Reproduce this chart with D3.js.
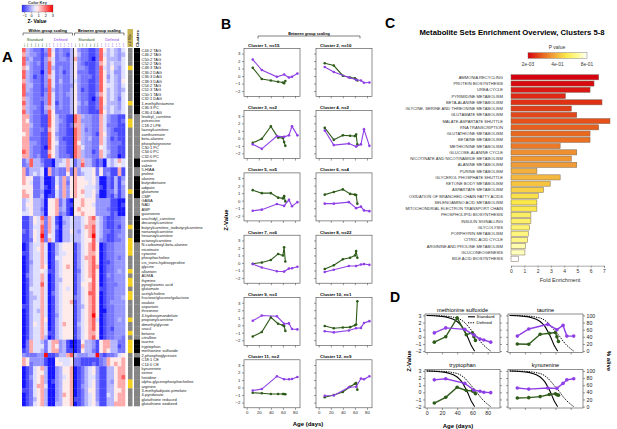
<!DOCTYPE html>
<html><head><meta charset="utf-8">
<script src="https://cdn.jsdelivr.net/npm/d3@7"></script>
<style>body{margin:0;background:#fff}svg{display:block;font-family:"Liberation Sans",Arial,sans-serif}</style>
</head><body><svg id="c" width="617" height="429"></svg>
<script>
// ================= DATA =================
// Panel A
const metabolites = ["C44:2 TAG","C46:2 TAG","C50:2 TAG","C52:2 TAG","C48:3 TAG","C36:2 DAG","C36:3 DAG","C38:3 DAG","C54:2 TAG","C52:3 TAG","C50:1 TAG","C32:1 DAG","1-methylhistamine","C36:3 PC","C36:4 DAG",
"linoleyl_carnitine","putrescine","C18:2 LPE","lauroylcarnitine","xanthurenate","beta-alanine","phosphotyrosine","C30:1 PC","C34:0 PC","C32:0 PC",
"carnitine","valine","5-HIAA","proline",
"alanine","butyrobetaine","adipate","glutamine","CMP",
"GABA","NAD","AMP","guanosine",
"arachidyl_carnitine","decanoylcarnitine","butyrylcarnitine_isobutyrylcarnitine","nonanoylcarnitine","hexanoylcarnitine","octanoylcarnitine",
"N-carbamoyl-beta-alanine","nicotinate","cytosine","phosphocholine","cis_trans-hydroxyproline","glycine","allantoin","ADMA","thymine","pyroglutamic acid","glutamate","acetylcholine","fructose/glucose/galactose","oxalate","aspartate","threonine","4-hydroxymandelate","propionylcarnitine","dimethylglycine","uracil","betaine","citrulline",
"taurine","tryptophan","methionine sulfoxide","2-phosphoglycerate","C18:1 CE","C14:0 CE",
"kynurenine","serine","histidine","alpha-glycerophosphocholine","arginine","3-methyladipate-pimelate","4-pyridoxate","glutathione reduced","glutathione oxidized"];
const clusterSizes = [15,10,2,2,5,4,6,22,3,1,2,9];
const sigRows = [4,12,16,17,32,40,43,44,45,46,50,52,53,55,56,61,64,66,67,68,75,76];
const keyTicks = [-1,0,1,2,3];
// heat codes: 0..9 -> z (see zCode); groups: within Std | within Def | between Std | between Def
const zCode = [-1.5,-1.0,-0.6,-0.3,0,0.4,0.9,1.5,2.2,3.0];
const heatRows = [
"8432213 8523224 6322112 8645435","7433212 8623214 6422112 8545434","8342213 7523324 7322102 8644435","8432313 8522224 6321112 7645445","7532213 8423224 6332112 8546435",
"8432203 8523124 6222112 8645335","8431213 7523224 6322212 8635435","7432213 8524224 5322112 8645436","8442213 8523223 6322112 8655435","8432212 8423224 6312112 8645434",
"8332213 8523234 6322113 7645435","7432223 8523224 6322102 8645425","8432213 8513224 6423112 8644435","7433214 7523224 6322112 8545435","8432213 8622224 6322111 8645445",
"7732211 8642211 8743322 7532211","7632211 8643211 8733322 7532212","7742211 8642212 7743322 7522211","7732221 7642211 8742322 7532111","6732211 8632211 8743321 7632211",
"7722211 8642111 8743422 7531211","7733211 8652211 8643322 7532221","7732210 8642211 8753322 6532211","8732211 7642211 8743312 7542211","7732311 8642221 8743322 7532201",
"2484421 1044575 2474421 2054575","2384431 1045575 2484421 2054565",
"7244450 7232272 7355562 6221171","7245450 7232262 7345562 6231171",
"7662240 0153736 7665564 0021413","7652240 0153726 7666564 0021414","6662241 0163736 7665554 1021413","7662230 0153736 7675564 0022413","7762240 1153736 7665563 0021313",
"4564430 6672410 6676663 3331100","4664430 6672411 6676653 3331101","4564420 6673410 6766663 3321100","5564430 6672310 6676663 3331200",
"1136582 7510445 4456785 4211223","1136572 7510345 4456775 4211223","1135582 7520445 4457785 4211213","2136582 7510446 4356785 4221223","1136592 6510445 4456795 4211233","1126582 7510445 4456685 3211223",
"0145575 0145666 1356786 0122333","0145675 0145666 1356786 0122333","1145575 0145566 1356776 0122333","0145575 0155666 1357786 0122323","0135575 0145666 1356786 0112333",
"0145576 0145676 1356787 0122333","0145565 1145666 1256786 0122343","0245575 0145666 1356786 0132333","0145575 0144666 1356686 0122333","0145585 0145666 1366786 0122233",
"0155575 0145656 1356786 1122333","0145575 0245666 1356886 0122333","0144575 0145666 2356786 0122334","0145575 0145667 1356786 0123333","1145575 0145666 1346786 0122333",
"0145475 0145666 1356786 0022333","0145575 0135666 1356796 0122333","0145576 0145666 1356785 0122343","0146575 0145766 1456786 0122333","0145575 0145666 1356786 0121333",
"0145575 1145666 1356776 0122333","0145574 0145666 1356786 0122332",
"0275542 5773410 0164431 6774422","0275552 5763410 0174431 6774412","1275542 5773411 0164421 6764422",
"3222339 1124478 4333449 2122356",
"7633331 0065556 2211111 2376667","7623331 0066556 2211121 2376767",
"0125674 0034667 0124563 1144677","0125664 0034667 0124563 1144677","0135674 0034567 0124553 1144678","0125674 0134667 0124563 1143677","0125775 0034667 0134563 1144677",
"1125674 0034667 0124663 1144667","0125674 0034767 0124563 1154677","0124674 0034667 1124563 1144677","0125674 0044667 0124564 1144777"];

// Panel B
const ageStd = [10,25,40,52,60,62,64];
const ageDef = [10,25,50,62,70,75,84];
const clusterStd = [
 [1.1,-0.4,-0.6,-0.75,-0.85,-0.95,-0.65],
 [1.7,1.4,0.05,-0.2,-0.3,-0.45,-0.6],
 [-0.6,-0.05,1.6,0.1,0.05,-0.5,-1.0],
 [1.4,-0.2,0.4,0.35,0.3,0.5,-0.8],
 [1.4,1.0,1.0,0.4,0.3,0.6,-0.1],
 [0.8,1.15,1.5,0.9,0.8,0.75,-0.4],
 [-0.1,0.05,0.4,1.2,1.0,2.1,0.2],
 [-0.8,-0.3,0.5,0.7,1.0,1.6,0.7],
 [-1.5,-0.9,1.05,0.2,0.0,-0.1,-0.75],
 [-0.1,-0.4,-0.3,-0.25,0.0,0.1,3.2],
 [-0.7,-0.75,-0.85,-0.85,-0.85,-0.85,-0.9],
 [-1.3,-1.0,-0.6,0.1,0.5,0.6,-0.3]];
const clusterDef = [
 [2.2,0.8,-0.1,0.2,-0.2,-0.1,0.35],
 [1.2,0.55,-0.2,-0.5,-0.6,-0.9,-0.85],
 [-0.8,-1.4,0.3,0.2,0.4,1.6,0.4],
 [1.05,-0.9,-0.7,-1.1,-0.8,1.2,-1.0],
 [-1.35,-1.2,-0.45,-0.7,0.1,-0.75,-0.2],
 [-0.4,-0.4,-0.2,-1.0,-0.8,-1.3,-1.4],
 [-0.15,-0.6,-1.1,-1.15,-0.75,-0.7,-0.5],
 [-1.2,-0.9,-0.4,-0.4,-0.2,-0.15,-0.25],
 [0.6,1.3,1.2,0.2,0.25,-0.5,-0.55],
 [-0.8,-0.95,-0.7,-0.4,-0.35,0.3,0.55],
 [-0.4,-0.2,1.5,1.1,1.1,1.15,1.4],
 [-1.1,-1.05,0.05,0.1,1.2,1.1,1.5]];
const ageTicks = [0,20,40,60,80];
const zTicks = [-2,-1,0,1,2,3];

// Panel C
const pathways = ["AMMONIA RECYCLING","PROTEIN BIOSYNTHESIS","UREA CYCLE","PYRIMIDINE METABOLISM","BETA-ALANINE METABOLISM","GLYCINE, SERINE AND THREONINE METABOLISM","GLUTAMATE METABOLISM","MALATE-ASPARTATE SHUTTLE","RNA TRANSCRIPTION","GLUTATHIONE METABOLISM","BETAINE METABOLISM","METHIONINE METABOLISM","GLUCOSE-ALANINE CYCLE","NICOTINATE AND NICOTINAMIDE METABOLISM","ALANINE METABOLISM","PURINE METABOLISM","GLYCEROL PHOSPHATE SHUTTLE","KETONE BODY METABOLISM","ASPARTATE METABOLISM","OXIDATION OF BRANCHED CHAIN FATTY ACIDS","SELENOAMINO ACID METABOLISM","MITOCHONDRIAL ELECTRON TRANSPORT CHAIN","PHOSPHOLIPID BIOSYNTHESIS","INSULIN SIGNALLING","GLYCOLYSIS","PORPHYRIN METABOLISM","CITRIC ACID CYCLE","ARGININE AND PROLINE METABOLISM","GLUCONEOGENESIS","BILE ACID BIOSYNTHESIS"];
const foldEnrichment = [6.6,6.25,5.95,4.1,6.85,4.55,4.95,7.45,6.6,5.95,5.95,3.7,4.95,4.55,4.95,1.95,3.7,2.95,2.45,2.05,1.95,1.95,1.5,1.5,1.4,1.3,1.25,1.1,1.05,0.55];
const pValues = [0.004,0.02,0.05,0.08,0.1,0.12,0.14,0.16,0.19,0.21,0.23,0.25,0.3,0.32,0.33,0.38,0.4,0.43,0.46,0.5,0.52,0.53,0.57,0.58,0.6,0.62,0.64,0.7,0.72,0.8];
const pLegendTicks = [0.002,0.4,0.8];
const pLegendLabels = ["2e-03","4e-01","8e-01"];
const foldTicks = [0,1,2,3,4,5,6,7];

// Panel D
const dNames = ["methionine sulfoxide","taurine","tryptophan","kynurenine"];
const dStd = [
 [-0.75,0.0,2.65,0.3,0.55,0.0,-0.5],
 [-1.0,-1.05,0.35,0.5,0.6,0.0,-0.65],
 [-1.5,-0.7,0.7,0.25,0.2,0.1,-0.2],
 [-0.8,-0.75,-0.6,-0.3,-0.2,-0.35,-0.4]];
const dDef = [
 [0.55,1.25,1.05,0.25,-0.3,-0.45,-0.75],
 [0.1,1.1,1.75,1.0,1.6,0.1,0.1],
 [1.75,1.9,1.25,0.3,0.15,0.0,-0.05],
 [0.6,0.45,0.6,0.55,1.25,1.75,1.9]];
const survStdAge = [0,10,20,25,30,35,40,43,46,48,50,52,54,56,58,60,62,63];
const survStdPct = [100,99,97,96,93,89,83,77,70,63,55,47,38,28,18,10,3,0];
const survDefAge = [0,20,30,40,45,50,55,60,63,66,70,74,78,82,84];
const survDefPct = [100,99,97,93,88,80,68,55,48,40,28,18,10,3,0];
const pctTicks = [0,20,40,60,80,100];

// ================= DRAW =================
const svg = d3.select("#c");
const GREEN = "#2e5b19", PURPLE = "#8f3fe6";
const fmt = d3.format("~g");
const defs = svg.append("defs");
function txt(x,y,s,size,opts={}){
  const t = svg.append("text").attr("x",x).attr("y",y).attr("font-size",size).text(s);
  if(opts.anchor) t.attr("text-anchor",opts.anchor);
  if(opts.bold) t.attr("font-weight","bold");
  if(opts.fill) t.attr("fill",opts.fill);
  if(opts.rot!==undefined) t.attr("transform",`rotate(${opts.rot},${x},${y})`);
  if(opts.mid) t.attr("dominant-baseline","central");
  return t;
}

// ---------- Panel A ----------
txt(2,62,"A",15,{bold:true});
const heatColor = d3.scaleLinear().domain([-1.7,0.7,3.1]).range(["#0000ff","#ffffff","#ff0000"]).clamp(true);
const keyX = d3.scaleLinear().domain([-1.3,3.1]).range([22,53]);
const kg = defs.append("linearGradient").attr("id","keyG");
d3.range(0,1.0001,0.1).forEach(t=>kg.append("stop").attr("offset",t).attr("stop-color",heatColor(keyX.invert(22+31*t))));
svg.append("rect").attr("x",22).attr("y",5).attr("width",31).attr("height",7).attr("fill","url(#keyG)").attr("stroke","#555").attr("stroke-width",0.3);
const kAx = svg.append("g").attr("transform","translate(0,12)").call(d3.axisBottom(keyX).tickValues(keyTicks).tickFormat(fmt).tickSize(1.5).tickPadding(0.8));
kAx.select(".domain").remove(); kAx.selectAll("text").attr("font-size",3.8); kAx.selectAll("line").attr("stroke-width",0.3);
txt(37.5,3.6,"Color Key",4,{anchor:"middle",bold:true,fill:"#333"});
txt(37,23,"Z- Value",5,{anchor:"middle",bold:true});

const heatVals = heatRows.map(r=>r.replace(/ /g,"").split("").map(c=>zCode[+c]));
const nCol = 28;
const hx = d3.scaleBand().domain(d3.range(nCol)).range([22,125]);
const hy = d3.scaleBand().domain(d3.range(metabolites.length)).range([48,406]);
const cells = [];
heatVals.forEach((row,i)=>row.forEach((v,j)=>cells.push({i,j,v})));
svg.append("g").selectAll("rect").data(cells).join("rect")
  .attr("x",d=>hx(d.j)).attr("y",d=>hy(d.i)).attr("width",hx.bandwidth()+0.3).attr("height",hy.bandwidth()+0.3)
  .attr("fill",d=>heatColor(d.v));
svg.append("line").attr("x1",hx(14)).attr("x2",hx(14)).attr("y1",48).attr("y2",406).attr("stroke","#000").attr("stroke-width",0.8);

// headers
function bracket(x1,x2,y,label,size){
  svg.append("path").attr("d",`M${x1},${y+2.5}V${y}H${x2}V${y+2.5}`).attr("fill","none").attr("stroke","#000").attr("stroke-width",0.5);
  txt((x1+x2)/2,y-1.5,label,size,{anchor:"middle",bold:true});
}
bracket(hx(0)+1,hx(13)+hx.bandwidth()-1,33,"Within group scaling",3.9);
bracket(hx(14)+1,hx(27)+hx.bandwidth()-1,33,"Between group scaling",3.9);
[[0,"Standard",GREEN],[7,"Defined",PURPLE],[14,"Standard",GREEN],[21,"Defined",PURPLE]].forEach(([c,l,col])=>{
  txt((hx(c)+hx(c+6)+hx.bandwidth())/2,41,l,4,{anchor:"middle",fill:col});
});
d3.range(nCol).forEach(j=>{
  const g = Math.floor(j/7), isStd = g%2===0;
  const age = isStd ? ageStd[j%7] : ageDef[j%7];
  txt(hx(j)+hx.bandwidth()/2+0.8,47.3,(isStd?"S":"D")+age,2.4,{rot:-90,fill:isStd?GREEN:PURPLE});
});
// annotation columns
svg.append("rect").attr("x",127.5).attr("y",29).attr("width",5.5).attr("height",18).attr("fill","#c9b458");
txt(131.3,46,"≥ 2 SDs",3.4,{rot:-90,fill:"#222"});
txt(139.2,47,"Clusters",4.2,{rot:-90,bold:true});
const rowCluster = [];
clusterSizes.forEach((n,k)=>{for(let q=0;q<n;q++) rowCluster.push(k);});
svg.append("g").selectAll("rect").data(metabolites).join("rect")
  .attr("x",128).attr("y",(d,i)=>hy(i)).attr("width",4.5).attr("height",hy.bandwidth()+0.3)
  .attr("fill",(d,i)=>sigRows.includes(i)?"#f2cf1d":"#858585");
svg.append("g").selectAll("rect").data(metabolites).join("rect")
  .attr("x",134).attr("y",(d,i)=>hy(i)).attr("width",6).attr("height",hy.bandwidth()+0.3)
  .attr("fill",(d,i)=>rowCluster[i]%2===0?"#000":"#858585");
svg.append("g").selectAll("text").data(metabolites).join("text")
  .attr("x",141.5).attr("y",(d,i)=>hy(i)+hy.bandwidth()/2).attr("dominant-baseline","central")
  .attr("font-size",4.0).attr("fill","#222").text(d=>d);

// ---------- Panel B ----------
txt(221,29,"B",14,{bold:true});
bracket(258,360,36,"Between group scaling",3.8);
const bX0 = [244,316], bW = 56, bH = 48, bTop0 = 48.3, bStep = 62.3;
clusterSizes.forEach((n,k)=>{
  const col = k%2, row = Math.floor(k/2);
  const x0 = bX0[col], y0 = bTop0 + row*bStep;
  const x = d3.scaleLinear().domain([-4.5,88.3]).range([x0,x0+bW]);
  const y = d3.scaleLinear().domain([-2.7,3.7]).range([y0+bH,y0]);
  const g = svg.append("g");
  const ax = g.append("g").attr("transform",`translate(0,${y0+bH})`).call(d3.axisBottom(x).tickValues(ageTicks).tickFormat(fmt).tickSize(2).tickPadding(1.2));
  ax.select(".domain").remove(); ax.selectAll("line").attr("stroke","#333").attr("stroke-width",0.5);
  ax.selectAll("text").attr("font-size",4.3).attr("fill","#222");
  if(row<5) ax.selectAll("text").remove();
  const ay = g.append("g").attr("transform",`translate(${x0},0)`).call(d3.axisLeft(y).tickValues(zTicks).tickFormat(fmt).tickSize(2).tickPadding(1.5));
  ay.select(".domain").remove(); ay.selectAll("line").attr("stroke","#333").attr("stroke-width",0.5);
  ay.selectAll("text").attr("font-size",4.3).attr("fill","#222");
  if(col===1) ay.selectAll("text").remove();
  g.append("rect").attr("x",x0).attr("y",y0).attr("width",bW).attr("height",bH).attr("fill","none").attr("stroke","#444").attr("stroke-width",0.6);
  txt(x0+4,y0-1.6,`Cluster ${k+1}, n=${n}`,4.4,{bold:true});
  [[ageStd,clusterStd[k],GREEN],[ageDef,clusterDef[k],PURPLE]].forEach(([ages,vals,c])=>{
    const pts = ages.map((a,i)=>[x(a),y(vals[i])]);
    g.append("path").attr("d",d3.line()(pts)).attr("fill","none").attr("stroke",c).attr("stroke-width",1.1);
    g.selectAll(null).data(pts).join("circle").attr("cx",d=>d[0]).attr("cy",d=>d[1]).attr("r",1.3).attr("fill",c);
  });
});
txt(228,220,"Z-Value",6,{anchor:"middle",bold:true,rot:-90});
txt(308,426,"Age (days)",6,{anchor:"middle",bold:true});

// ---------- Panel C ----------
txt(385,28,"C",14,{bold:true});
txt(512,35,"Metabolite Sets Enrichment Overview, Clusters 5-8",7.7,{anchor:"middle",bold:true});
const pColor = d3.scaleLinear().domain([0.002,0.2,0.36,0.52,0.68,0.8]).range(["#d7000f","#e8641e","#f2a83a","#fbe84a","#fffc9a","#ffffff"]).clamp(true);
const pLegX = d3.scaleLinear().domain([0.002,0.8]).range([528,587]);
const pg = defs.append("linearGradient").attr("id","pG");
d3.range(0,1.0001,0.05).forEach(t=>pg.append("stop").attr("offset",t).attr("stop-color",pColor(pLegX.invert(528+59*t))));
txt(557,48.5,"P value",5,{anchor:"middle",fill:"#333"});
svg.append("rect").attr("x",528).attr("y",52.7).attr("width",59).attr("height",5.6).attr("fill","url(#pG)").attr("stroke","#666").attr("stroke-width",0.4);
pLegendTicks.forEach((p,i)=>txt(pLegX(p),65.5,pLegendLabels[i],4.8,{anchor:"middle",fill:"#333"}));
const cx = d3.scaleLinear().domain([0,7]).range([511,604]);
const cy = d3.scaleBand().domain(pathways).range([74.17,261.83]).paddingInner(0.18).paddingOuter(0.09);
svg.append("g").selectAll("rect").data(pathways).join("rect")
  .attr("x",cx(0)).attr("y",d=>cy(d)).attr("height",cy.bandwidth())
  .attr("width",(d,i)=>cx(foldEnrichment[i])-cx(0))
  .attr("fill",(d,i)=>pColor(pValues[i])).attr("stroke","#7a6a5a").attr("stroke-width",0.5);
svg.append("g").selectAll("text").data(pathways).join("text")
  .attr("x",503).attr("y",d=>cy(d)+cy.bandwidth()/2).attr("dominant-baseline","central")
  .attr("text-anchor","end").attr("font-size",4.1).attr("fill","#333").text(d=>d);
const cax = svg.append("g").attr("transform","translate(0,265.7)").call(d3.axisBottom(cx).tickValues(foldTicks).tickFormat(fmt).tickSize(2).tickPadding(1.5));
cax.select(".domain").attr("stroke","#555").attr("stroke-width",0.5);
cax.selectAll("line").attr("stroke","#555").attr("stroke-width",0.5);
cax.selectAll("text").attr("font-size",5).attr("fill","#333");
txt(560,282,"Fold Enrichment",5.6,{anchor:"middle",fill:"#333"});

// ---------- Panel D ----------
txt(390,302,"D",14,{bold:true});
const dBoxes = [[425,314],[508,314],[425,369.5],[508,369.5]];
const dW = 75, dH = 38.5;
dNames.forEach((name,k)=>{
  const [x0,y0] = dBoxes[k];
  const x = d3.scaleLinear().domain([-2.2,96.2]).range([x0,x0+dW]);
  const y = d3.scaleLinear().domain([-2.2,3.2]).range([y0+dH,y0]);
  const yp = d3.scaleLinear().domain([0,100]).range([y(-2),y(3)]);
  const g = svg.append("g");
  const ax = g.append("g").attr("transform",`translate(0,${y0+dH})`).call(d3.axisBottom(x).tickValues(ageTicks).tickFormat(fmt).tickSize(2).tickPadding(1.5));
  ax.select(".domain").remove(); ax.selectAll("line").attr("stroke","#333").attr("stroke-width",0.5);
  ax.selectAll("text").attr("font-size",5.2).attr("fill","#222");
  if(k!==2) ax.selectAll("text").remove();
  const ay = g.append("g").attr("transform",`translate(${x0},0)`).call(d3.axisLeft(y).tickValues(zTicks).tickFormat(fmt).tickSize(2).tickPadding(1.5));
  ay.select(".domain").remove(); ay.selectAll("line").attr("stroke","#333").attr("stroke-width",0.5);
  ay.selectAll("text").attr("font-size",5.2).attr("fill","#222");
  if(k%2===1) ay.selectAll("text").remove();
  const ar = g.append("g").attr("transform",`translate(${x0+dW},0)`).call(d3.axisRight(yp).tickValues(pctTicks).tickFormat(fmt).tickSize(2).tickPadding(1.5));
  ar.select(".domain").remove(); ar.selectAll("line").attr("stroke","#333").attr("stroke-width",0.5);
  ar.selectAll("text").attr("font-size",5.2).attr("fill","#222");
  if(k%2===0) ar.selectAll("text").remove();
  g.append("rect").attr("x",x0).attr("y",y0).attr("width",dW).attr("height",dH).attr("fill","none").attr("stroke","#444").attr("stroke-width",0.6);
  txt(x0+dW/2,y0-2.5,name,5.6,{anchor:"middle"});
  const sStd = survStdAge.map((a,i)=>[x(a),yp(survStdPct[i])]);
  const sDef = survDefAge.map((a,i)=>[x(a),yp(survDefPct[i])]);
  g.append("path").attr("d",d3.line()(sStd)).attr("fill","none").attr("stroke","#000").attr("stroke-width",1.1);
  g.append("path").attr("d",d3.line()(sDef)).attr("fill","none").attr("stroke","#000").attr("stroke-width",1.0).attr("stroke-dasharray","1.3,1.1");
  [[ageStd,dStd[k],GREEN],[ageDef,dDef[k],PURPLE]].forEach(([ages,vals,c])=>{
    const pts = ages.map((a,i)=>[x(a),y(vals[i])]);
    g.append("path").attr("d",d3.line()(pts)).attr("fill","none").attr("stroke",c).attr("stroke-width",1.4);
    g.selectAll(null).data(pts).join("circle").attr("cx",d=>d[0]).attr("cy",d=>d[1]).attr("r",1.8).attr("fill",c);
  });
  if(k===0){
    g.append("line").attr("x1",468).attr("x2",475).attr("y1",316.8).attr("y2",316.8).attr("stroke","#000").attr("stroke-width",1.1);
    g.append("line").attr("x1",468).attr("x2",475).attr("y1",322.8).attr("y2",322.8).attr("stroke","#000").attr("stroke-width",1).attr("stroke-dasharray","1.3,1.1");
    txt(476.5,316.8,"Standard",4.4,{mid:true});
    txt(476.5,322.8,"Defined",4.4,{mid:true});
  }
});
txt(411,361,"Z-Value",6,{anchor:"middle",bold:true,rot:-90});
txt(607,361,"% alive",6,{anchor:"middle",bold:true,rot:90});
txt(458,427.5,"Age (days)",6,{anchor:"middle",bold:true});
</script></body></html>
